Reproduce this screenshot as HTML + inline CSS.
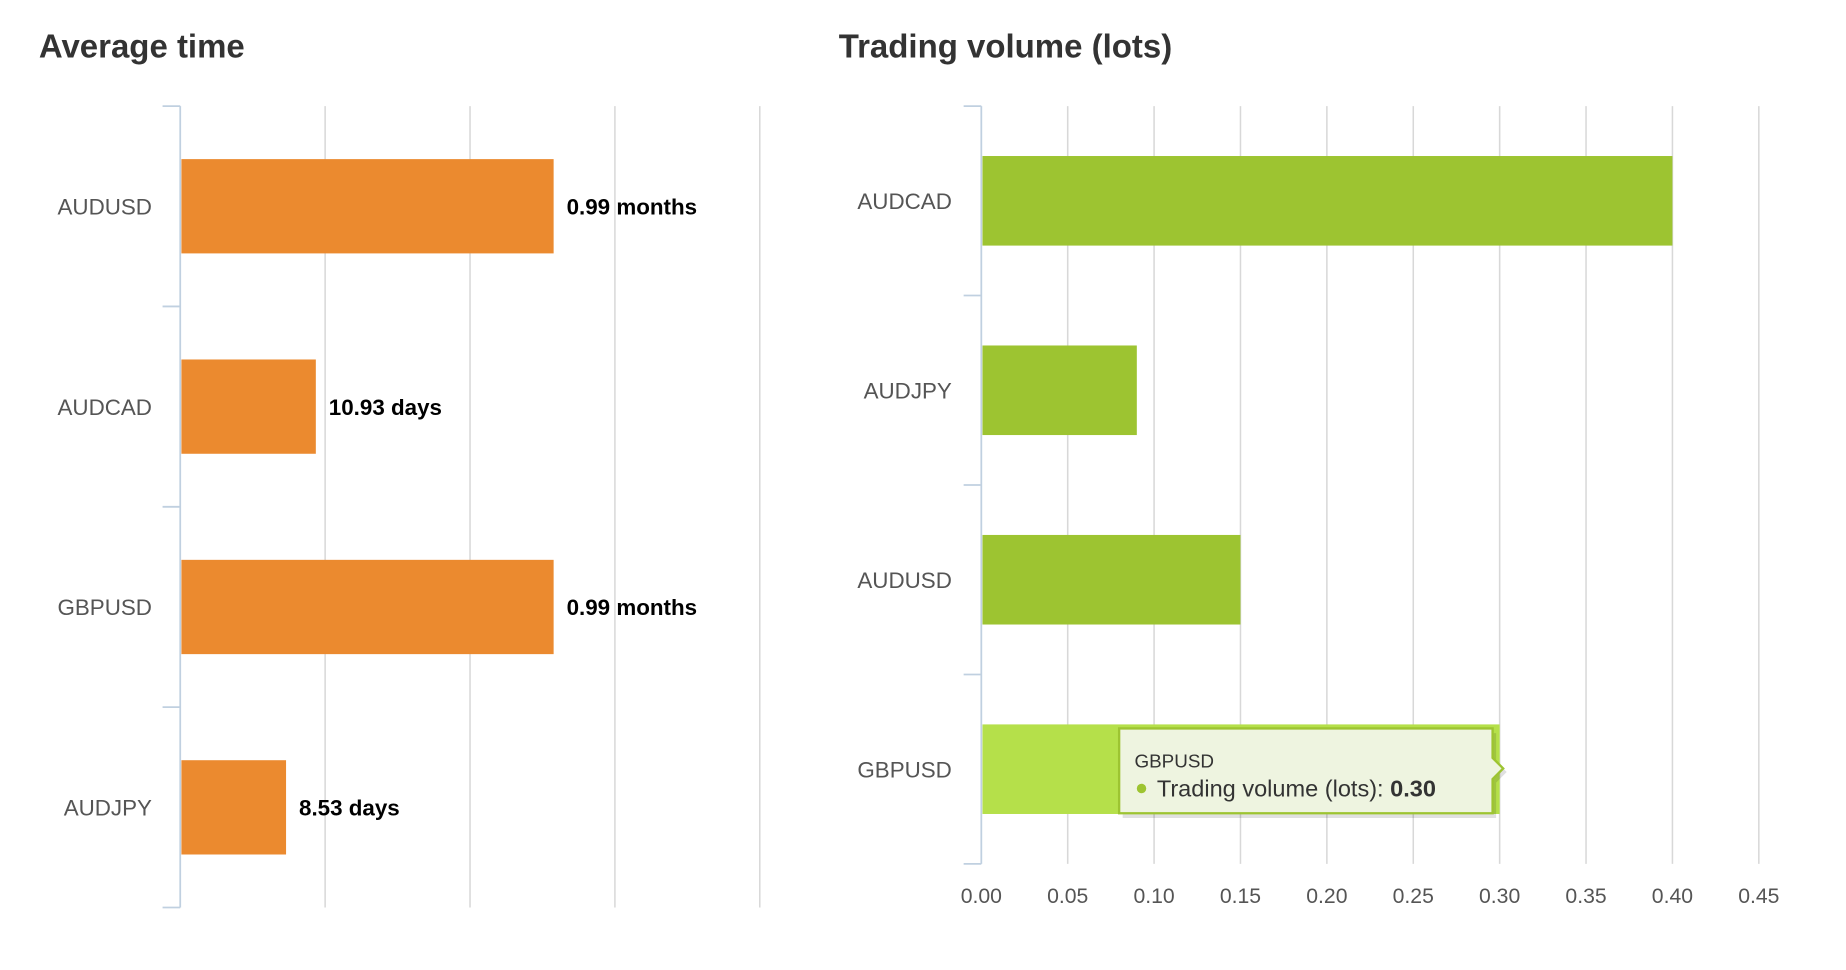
<!DOCTYPE html>
<html><head><meta charset="utf-8"><style>
html,body{margin:0;padding:0;background:#fff;}
svg{display:block;font-family:"Liberation Sans",sans-serif;}
</style></head><body>
<svg id="c" width="1846" height="970" viewBox="0 0 1567 823" preserveAspectRatio="none" xmlns="http://www.w3.org/2000/svg">
<text x="33" y="49" font-size="28" font-weight="bold" fill="#333">Average time</text>
<text x="712" y="49" font-size="28" font-weight="bold" fill="#333">Trading volume (lots)</text>
<g id="left"></g>
<g id="right"></g>
</svg>
<script>
var leftCats = ["AUDUSD","AUDCAD","GBPUSD","AUDJPY"];
var leftDays = [30.1, 10.93, 30.1, 8.53];
var leftLabels = ["0.99 months","10.93 days","0.99 months","8.53 days"];
var leftTicks = [0, 11.68, 23.36, 35.04, 46.72];

var rightCats = ["AUDCAD","AUDJPY","AUDUSD","GBPUSD"];
var rightVals = [0.40, 0.09, 0.15, 0.30];
var rightTicks = [0,0.05,0.10,0.15,0.20,0.25,0.30,0.35,0.40,0.45];
var rightTickLabels = ["0.00","0.05","0.10","0.15","0.20","0.25","0.30","0.35","0.40","0.45"];

var NS="http://www.w3.org/2000/svg";
function mk(parent,tag,attrs,text){var e=document.createElementNS(NS,tag);for(var k in attrs)e.setAttribute(k,attrs[k]);if(text!=null)e.textContent=text;parent.appendChild(e);return e;}

// left chart
var L=document.getElementById('left');
var lx0=153, lTop=90, lBot=770, lpx=10.53;
function lx(v){return lx0+v*lpx;}
function lband(i){return lTop+i*(lBot-lTop)/leftCats.length;}
var lbw=(lBot-lTop)/leftCats.length;
leftTicks.forEach(function(t,i){ if(i===0)return;
  var g=mk(L,'line',{x1:lx(t),x2:lx(t),y1:lTop,y2:lBot,stroke:'#d8d8d8','stroke-width':1.3});
  
  
});
var la=mk(L,'line',{x1:lx0,x2:lx0,y1:lTop,y2:lBot,stroke:'#c0d0e0','stroke-width':1.5});


for(var i=0;i<=leftCats.length;i++){
  var tk=mk(L,'line',{x1:138,x2:lx0,y1:lband(i),y2:lband(i),stroke:'#c0d0e0','stroke-width':1.5});
  
  
}
leftCats.forEach(function(c,i){
  var cy=lband(i)+lbw/2;
  var b=mk(L,'rect',{x:lx0+1,y:cy-40,width:lx(leftDays[i])-lx0-1,height:80,fill:'#eb8a2f'});
  
  
  var t=mk(L,'text',{x:129,y:cy+7,'text-anchor':'end','font-size':19,fill:'#555'},c);
  
  
  var v=mk(L,'text',{x:lx(leftDays[i])+11,y:cy+7,'font-size':19,'font-weight':'bold',fill:'#000'},leftLabels[i]);
  
  
});

// right chart
var R=document.getElementById('right');
var rx0=833, rTop=90, rBot=733, rw=660, rmax=0.45;
function rx(v){return rx0+v/rmax*rw;}
var rbw=(rBot-rTop)/rightCats.length;
function rband(i){return rTop+i*rbw;}
rightTicks.forEach(function(t,i){
  if(i>0){
    var g=mk(R,'line',{x1:rx(t),x2:rx(t),y1:rTop,y2:rBot,stroke:'#d8d8d8','stroke-width':1.3});
    
    
  }
  var tl=mk(R,'text',{x:rx(t),y:766,'text-anchor':'middle','font-size':18,fill:'#555'},rightTickLabels[i]);
  
  
});
var ra=mk(R,'line',{x1:rx0,x2:rx0,y1:rTop,y2:rBot,stroke:'#c0d0e0','stroke-width':1.5});


for(var j=0;j<=rightCats.length;j++){
  var tk2=mk(R,'line',{x1:818,x2:rx0,y1:rband(j),y2:rband(j),stroke:'#c0d0e0','stroke-width':1.5});
  
  
}
rightCats.forEach(function(c,i){
  var cy=rband(i)+rbw/2;
  var b=mk(R,'rect',{x:rx0+1,y:cy-38,width:rx(rightVals[i])-rx0-1,height:76,fill:i===3?'#b5e04a':'#9dc431'});
  
  
  var t=mk(R,'text',{x:808,y:cy+7,'text-anchor':'end','font-size':19,fill:'#555'},c);
  
  
});
// tooltip
var tt=mk(R,'g',{});


mk(tt,'path',{d:'M953,622 H1270 V646 L1279,655 L1270,664 V694 H953 Z',fill:'rgba(0,0,0,0.12)'});
mk(tt,'path',{d:'M950,618 H1267 V643 L1276,652 L1267,661 V690 H950 Z',fill:'#eef4e0',stroke:'#9dc431','stroke-width':2});
var t1=mk(tt,'text',{x:963,y:651,'font-size':16,fill:'#333'},'GBPUSD');


mk(tt,'circle',{cx:969,cy:669,r:4,fill:'#9dc431'});
var t2=mk(tt,'text',{x:982,y:676,'font-size':20,fill:'#333'});


mk(t2,'tspan',{},'Trading volume (lots): ');
mk(t2,'tspan',{'font-weight':'bold'},rightVals[3].toFixed(2));
</script>
</body></html>
